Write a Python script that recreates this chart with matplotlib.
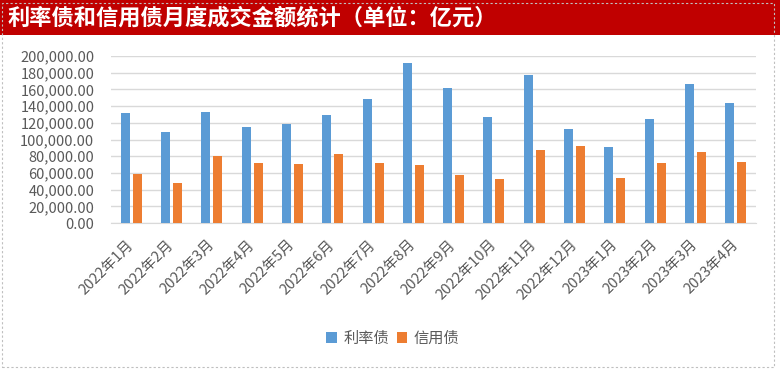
import matplotlib.pyplot as plt
import matplotlib.patches as mpatches
import numpy as np
from matplotlib.ticker import FuncFormatter

plt.rcParams['font.family'] = ['Noto Sans CJK SC', 'DejaVu Sans']

months = ['2022年1月', '2022年2月', '2022年3月', '2022年4月', '2022年5月', '2022年6月',
          '2022年7月', '2022年8月', '2022年9月', '2022年10月', '2022年11月', '2022年12月',
          '2023年1月', '2023年2月', '2023年3月', '2023年4月']
rate_bonds = [131700, 109000, 133000, 115000, 118600, 129300, 148500, 191600,
              161700, 127000, 177200, 112600, 91000, 124600, 166500, 143700]
credit_bonds = [58700, 47900, 80200, 71900, 70700, 82600, 71900, 69500,
                57500, 52700, 87400, 92200, 53900, 71900, 85000, 73000]

blue = '#5B9BD5'
orange = '#ED7D31'
text_gray = '#595959'

fig = plt.figure(figsize=(7.8, 3.71), dpi=100)

# red title bar
fig.patches.append(mpatches.Rectangle((0, 1 - 35 / 371), 1, 35 / 371, transform=fig.transFigure,
                                      facecolor='#C00000', edgecolor='none', zorder=0))
fig.text(8 / 780, 1 - 18 / 371, '利率债和信用债月度成交金额统计（单位：亿元）', color='white',
         fontsize=16, fontweight='bold', va='center', ha='left')
# dashed outer border
fig.patches.append(mpatches.Rectangle((2 / 780, 4 / 371), 772 / 780, 364 / 371, transform=fig.transFigure,
                                      facecolor='none', edgecolor='#BFBFBF', linestyle=(0, (2, 2)),
                                      linewidth=0.8, zorder=1))

ax = fig.add_axes([111 / 780, 1 - 223 / 371, 645 / 780, 167 / 371])
x = np.arange(len(months))
w = 0.223
off = 0.149
ax.bar(x - off, rate_bonds, w, color=blue, label='利率债', zorder=3)
ax.bar(x + off, credit_bonds, w, color=orange, label='信用债', zorder=3)

ax.set_xlim(-0.5, len(months) - 0.5)
ax.set_ylim(0, 200000)
ax.set_yticks(np.arange(0, 200001, 20000))
ax.yaxis.set_major_formatter(FuncFormatter(lambda v, p: f'{v:,.2f}'))
ax.grid(axis='y', color='#D9D9D9', linewidth=1, zorder=0)
for s in ['top', 'right', 'left']:
    ax.spines[s].set_visible(False)
ax.spines['bottom'].set_color('#D9D9D9')
ax.tick_params(axis='both', length=0, labelcolor=text_gray)
ax.tick_params(axis='y', pad=12, labelsize=10.5)
ax.set_xticks(x)
ax.set_xticklabels(months, rotation=45, ha='right', va='center', rotation_mode='anchor', fontsize=10.5)
ax.tick_params(axis='x', pad=14)

ax.legend(loc='center', bbox_to_anchor=(0.437, -0.69), ncol=2, frameon=False, fontsize=11,
          handlelength=0.7, handleheight=0.7, handletextpad=0.4, columnspacing=0.5,
          labelcolor=text_gray)

fig.savefig('out.png', dpi=100)
